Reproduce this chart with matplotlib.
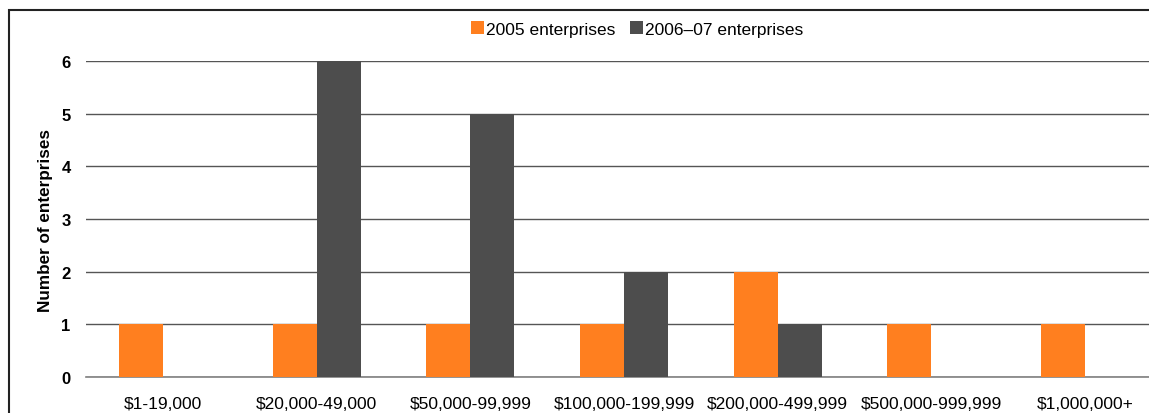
import numpy as np
import matplotlib.pyplot as plt
from matplotlib.patches import Rectangle

plt.rcParams['font.family'] = ['Liberation Sans', 'DejaVu Sans']

categories = ['$1-19,000', '$20,000-49,000', '$50,000-99,999', '$100,000-199,999',
              '$200,000-499,999', '$500,000-999,999', '$1,000,000+']
series_2005 = [1, 1, 1, 1, 2, 1, 1]
series_2006_07 = [0, 6, 5, 2, 1, 0, 0]
yticks = [0, 1, 2, 3, 4, 5, 6]

W, H = 1149, 414
fig = plt.figure(figsize=(W / 100, H / 100), dpi=100)
ax = fig.add_axes([86 / W, 36 / H, 1 - 86 / W, 316 / H])

x = np.arange(len(categories))
bw = 0.286
ax.bar(x - bw / 2, series_2005, bw, color='#FF7F1F', label='2005 enterprises', zorder=3)
ax.bar(x + bw / 2, series_2006_07, bw, color='#4D4D4D', label='2006–07 enterprises', zorder=3)

ax.set_xlim(-0.5, 6.416)
ax.set_ylim(0, 6)
ax.set_yticks(yticks)
ax.set_yticklabels([str(t) for t in yticks], fontweight='bold', fontsize=12)
ax.set_xticks(x)
ax.set_xticklabels(categories, fontsize=12.5)
ax.tick_params(axis='both', length=0)
ax.tick_params(axis='y', pad=11)
ax.tick_params(axis='x', pad=14)
ax.yaxis.grid(True, color='#555555', linewidth=1, zorder=0)
for s in ['top', 'right', 'left']:
    ax.spines[s].set_visible(False)
ax.spines['bottom'].set_color('#808080')
ax.spines['bottom'].set_linewidth(1.2)
ax.set_ylabel('Number of enterprises', fontweight='bold', fontsize=12.3, labelpad=6)

fig.legend(loc='center', bbox_to_anchor=(637 / W, 1 - 30 / H), ncol=2, frameon=False,
           fontsize=12.5, handlelength=0.75, handleheight=0.75, handletextpad=0.15,
           columnspacing=0.8)

fig.patches.append(Rectangle((8.5 / W, -0.1), 1.2, 1 - 11 / H + 0.1, transform=fig.transFigure,
                             fill=False, edgecolor='#222222', linewidth=1.5))

fig.savefig('out.png', dpi=100)
